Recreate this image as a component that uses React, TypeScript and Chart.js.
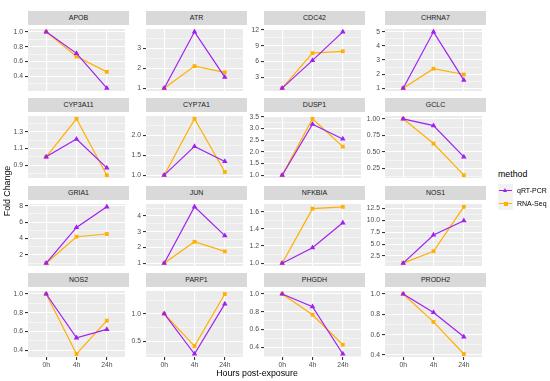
import React, { useEffect, useRef } from "react";
import { Chart, registerables } from "chart.js";
Chart.register(...registerables);

const timepoints = ["0h", "4h", "24h"];
const genes = ["APOB", "ATR", "CDC42", "CHRNA7", "CYP3A11", "CYP7A1", "DUSP1", "GCLC", "GRIA1", "JUN", "NFKBIA", "NOS1", "NOS2", "PARP1", "PHGDH", "PRODH2"];
const methods = ["qRT-PCR", "RNA-Seq"];

const qrtPcr = [
  [1.0, 0.71, 0.24],
  [1.0, 3.81, 1.55],
  [1.0, 6.23, 11.6],
  [1.0, 5.0, 1.57],
  [1.0, 1.213, 0.868],
  [1.0, 1.72, 1.344],
  [1.0, 3.18, 2.55],
  [1.0, 0.897, 0.425],
  [1.0, 5.35, 7.86],
  [1.0, 4.58, 2.75],
  [1.0, 1.18, 1.47],
  [1.0, 6.9, 9.9],
  [1.0, 0.533, 0.623],
  [1.0, 0.265, 1.18],
  [1.0, 0.858, 0.326],
  [1.0, 0.818, 0.579],
];
const rnaSeq = [
  [1.0, 0.667, 0.46],
  [1.0, 2.1, 1.79],
  [1.0, 7.6, 7.94],
  [1.0, 2.38, 1.97],
  [1.0, 1.456, 0.78],
  [1.0, 2.41, 1.08],
  [1.0, 3.41, 2.22],
  [1.0, 0.627, 0.15],
  [1.0, 4.22, 4.55],
  [1.0, 2.36, 1.75],
  [1.0, 1.635, 1.656],
  [1.0, 3.5, 12.8],
  [1.0, 0.36, 0.716],
  [1.0, 0.41, 1.36],
  [1.0, 0.767, 0.43],
  [1.0, 0.726, 0.41],
];
const yTickLabels = [
  ["0.4", "0.6", "0.8", "1.0"],
  ["1", "2", "3"],
  ["3", "6", "9", "12"],
  ["1", "2", "3", "4", "5"],
  ["0.9", "1.1", "1.3"],
  ["1.0", "1.5", "2.0"],
  ["1.0", "1.5", "2.0", "2.5", "3.0", "3.5"],
  ["0.25", "0.50", "0.75", "1.00"],
  ["2", "4", "6", "8"],
  ["1", "2", "3", "4"],
  ["1.0", "1.2", "1.4", "1.6"],
  ["2.5", "5.0", "7.5", "10.0", "12.5"],
  ["0.4", "0.6", "0.8", "1.0"],
  ["0.5", "1.0"],
  ["0.4", "0.6", "0.8", "1.0"],
  ["0.4", "0.6", "0.8", "1.0"],
];

const PURPLE = "#A020F0";
const ORANGE = "#FFB000";
const FONT = "'Liberation Sans', Arial, sans-serif";
const COL_LEFT = [28, 146, 264, 385];
const ROW_TOP = [25, 112, 200, 287];
const PW = 101;
const PH = 70;
const AXW = 27;
const XH = 13;
const STRIP_H = 14;

const bgPlugin = {
  id: "panelBg",
  beforeDraw(chart: any) {
    const { ctx, chartArea: a } = chart;
    ctx.save();
    ctx.fillStyle = "#EBEBEB";
    ctx.fillRect(a.left, a.top, a.right - a.left, a.bottom - a.top);
    ctx.restore();
  },
};

function Panel({ idx }: { idx: number }) {
  const ref = useRef<HTMLCanvasElement>(null);
  const row = Math.floor(idx / 4);
  const col = idx % 4;
  const bottomRow = row === 3;
  const width = AXW + PW;
  const height = PH + (bottomRow ? XH : 0);

  useEffect(() => {
    const q = qrtPcr[idx];
    const r = rnaSeq[idx];
    const all = [...q, ...r];
    const lo = Math.min(...all);
    const hi = Math.max(...all);
    const pad = (hi - lo) * 0.05;
    const yMin = lo - pad;
    const yMax = hi + pad;
    const labels = yTickLabels[idx];
    const majors = labels.map((s) => parseFloat(s));
    const step = majors.length > 1 ? majors[1] - majors[0] : 1;
    const minors: number[] = [];
    minors.push(majors[0] - step / 2);
    for (let i = 0; i < majors.length - 1; i++) minors.push((majors[i] + majors[i + 1]) / 2);
    minors.push(majors[majors.length - 1] + step / 2);
    const ticks = [...majors, ...minors.filter((v) => v >= yMin && v <= yMax)].sort((a, b) => a - b);
    const isMajor = (v: number) => majors.some((m) => Math.abs(m - v) < 1e-9);
    const labelFor = (v: number) => {
      const i = majors.findIndex((m) => Math.abs(m - v) < 1e-9);
      return i >= 0 ? labels[i] : "";
    };

    const chart = new Chart(ref.current as HTMLCanvasElement, {
      type: "line",
      data: {
        datasets: [
          {
            label: methods[0],
            data: q.map((v, i) => ({ x: i, y: v })),
            borderColor: PURPLE,
            backgroundColor: PURPLE,
            borderWidth: 1.2,
            pointStyle: "triangle",
            pointRadius: 3.2,
            pointBorderWidth: 0,
          },
          {
            label: methods[1],
            data: r.map((v, i) => ({ x: i, y: v })),
            borderColor: ORANGE,
            backgroundColor: ORANGE,
            borderWidth: 1.2,
            pointStyle: "rect",
            pointRadius: 2.7,
            pointBorderWidth: 0,
          },
        ],
      } as any,
      options: {
        animation: false,
        responsive: false,
        maintainAspectRatio: false,
        events: [],
        layout: { padding: 0 },
        plugins: { legend: { display: false }, tooltip: { enabled: false } },
        scales: {
          x: {
            type: "linear",
            min: -0.6,
            max: 2.6,
            afterBuildTicks: (s: any) => {
              s.ticks = [0, 1, 2].map((v) => ({ value: v }));
            },
            afterFit: (s: any) => {
              s.height = bottomRow ? XH : 0;
              s.paddingLeft = 0;
              s.paddingRight = 0;
              s.paddingTop = 0;
              s.paddingBottom = 0;
            },
            ticks: {
              display: bottomRow,
              autoSkip: false,
              maxRotation: 0,
              padding: 1,
              color: "#4D4D4D",
              font: { family: FONT, size: 6.8 },
              callback: (v: any) => timepoints[Math.round(Number(v))],
            },
            grid: {
              color: "#FFFFFF",
              lineWidth: 1.1,
              drawTicks: bottomRow,
              tickLength: 3,
              tickColor: "#333333",
            },
            border: { display: false },
          },
          y: {
            type: "linear",
            min: yMin,
            max: yMax,
            afterBuildTicks: (s: any) => {
              s.ticks = ticks.map((v) => ({ value: v }));
            },
            afterFit: (s: any) => {
              s.width = AXW;
              s.paddingTop = 0;
              s.paddingBottom = 0;
              s.paddingLeft = 0;
              s.paddingRight = 0;
            },
            ticks: {
              autoSkip: false,
              padding: 2,
              color: "#4D4D4D",
              font: { family: FONT, size: 6.8 },
              callback: (v: any) => labelFor(Number(v)),
            },
            grid: {
              color: "#FFFFFF",
              lineWidth: (ctx: any) => (isMajor(ctx.tick?.value) ? 1.1 : 0.5),
              tickLength: 3,
              tickColor: (ctx: any) => (isMajor(ctx.tick?.value) ? "#333333" : "rgba(0,0,0,0)"),
            },
            border: { display: false },
          },
        },
      } as any,
      plugins: [bgPlugin],
    });
    return () => chart.destroy();
  }, [idx]);

  const left = COL_LEFT[col];
  const top = ROW_TOP[row];
  return (
    <>
      <div
        style={{
          position: "absolute",
          left,
          top: top - STRIP_H,
          width: PW,
          height: STRIP_H,
          background: "#D9D9D9",
          color: "#1A1A1A",
          fontFamily: FONT,
          fontSize: 7,
          lineHeight: STRIP_H + "px",
          textAlign: "center",
        }}
      >
        {genes[idx]}
      </div>
      <canvas
        ref={ref}
        width={width}
        height={height}
        style={{ position: "absolute", left: left - AXW, top, width, height }}
      />
    </>
  );
}

function LegendKey({ color, shape, top }: { color: string; shape: string; top: number }) {
  return (
    <div style={{ position: "absolute", left: 498, top, width: 15, height: 13, background: "#F2F2F2" }}>
      <div style={{ position: "absolute", left: 1, top: 6, width: 13, height: 1.2, background: color }} />
      {shape === "triangle" ? (
        <div
          style={{
            position: "absolute",
            left: 5,
            top: 3.5,
            width: 0,
            height: 0,
            borderLeft: "2.5px solid transparent",
            borderRight: "2.5px solid transparent",
            borderBottom: "4.5px solid " + color,
          }}
        />
      ) : (
        <div style={{ position: "absolute", left: 5.5, top: 4.5, width: 4, height: 4, background: color }} />
      )}
    </div>
  );
}

export default function App() {
  return (
    <div style={{ position: "fixed", left: 0, top: 0, width: 550, height: 381, background: "#FFFFFF", overflow: "hidden" }}>
      {genes.map((g, i) => (
        <Panel key={g} idx={i} />
      ))}
      <div
        style={{
          position: "absolute",
          left: -43,
          top: 185,
          width: 100,
          height: 12,
          lineHeight: "12px",
          textAlign: "center",
          transform: "rotate(-90deg)",
          fontFamily: FONT,
          fontSize: 8.8,
          color: "#000000",
        }}
      >
        Fold Change
      </div>
      <div
        style={{
          position: "absolute",
          left: 157,
          top: 367,
          width: 200,
          height: 12,
          lineHeight: "12px",
          textAlign: "center",
          fontFamily: FONT,
          fontSize: 8.8,
          color: "#000000",
        }}
      >
        Hours post-exposure
      </div>
      <div style={{ position: "absolute", left: 498, top: 168, fontFamily: FONT, fontSize: 8.8, lineHeight: "12px", color: "#000000" }}>
        method
      </div>
      <LegendKey color={PURPLE} shape="triangle" top={184} />
      <LegendKey color={ORANGE} shape="rect" top={197} />
      <div style={{ position: "absolute", left: 517, top: 184, fontFamily: FONT, fontSize: 7, lineHeight: "13px", color: "#000000" }}>
        {methods[0]}
      </div>
      <div style={{ position: "absolute", left: 517, top: 197, fontFamily: FONT, fontSize: 7, lineHeight: "13px", color: "#000000" }}>
        {methods[1]}
      </div>
    </div>
  );
}
